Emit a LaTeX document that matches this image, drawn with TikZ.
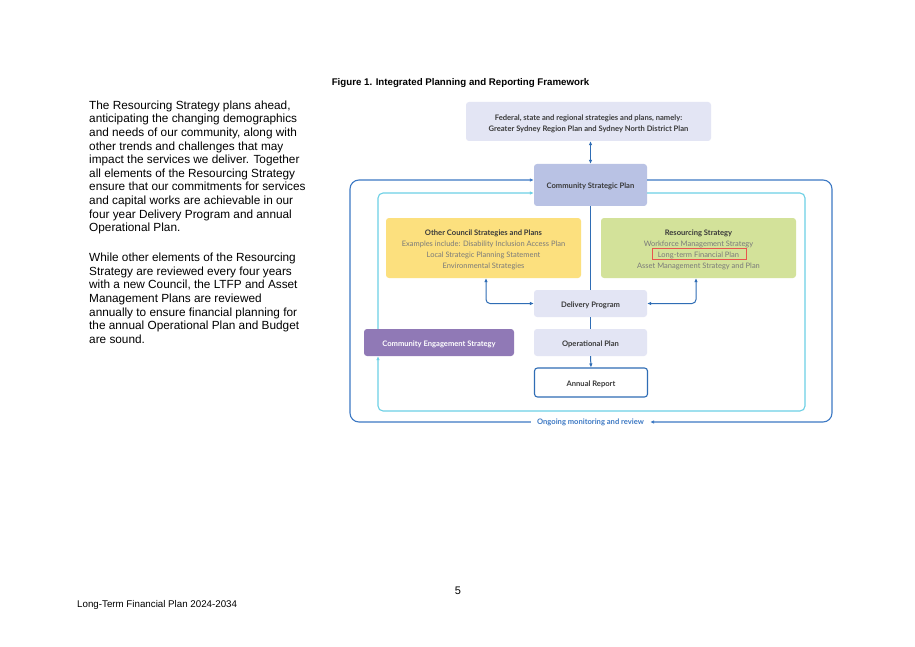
\documentclass[tikz,border=0pt]{standalone}
\usepackage{fontspec}
\setmainfont{Liberation Sans}
\newfontfamily\diag{Lato}
\usetikzlibrary{arrows.meta,calc}
\definecolor{outerblue}{HTML}{3D79C4}
\definecolor{cyanl}{HTML}{6DD0E5}
\definecolor{lav}{HTML}{E3E5F4}
\definecolor{cspc}{HTML}{B9C2E4}
\definecolor{yel}{HTML}{FCE07E}
\definecolor{grn}{HTML}{D3E29A}
\definecolor{purp}{HTML}{9079B6}
\definecolor{ttl}{HTML}{3A3A3A}
\definecolor{sub}{HTML}{7A7A7A}
\definecolor{arb}{HTML}{2F6DB5}
\definecolor{redb}{HTML}{E8554E}
\newcommand\subline[1]{{\diag\fontsize{7.5}{11}\selectfont\mdseries\color{sub}#1}}
\newcommand\topstrut{\rule{0pt}{8.6pt}}
\tikzset{
  box/.style={rounded corners=3pt, inner sep=0pt, align=center, font=\diag\fontsize{7.6}{11}\selectfont\bfseries, text=ttl,
    execute at begin node={\rule{0pt}{8.6pt}}},
  tip/.style={-{Latex[length=4pt,width=3.6pt]}},
  dtip/.style={{Latex[length=4pt,width=3.6pt]}-{Latex[length=4pt,width=3.6pt]}},
  outerline/.style={draw=outerblue, line width=1.1pt, rounded corners=9pt},
  cyanline/.style={draw=cyanl, line width=1.1pt, rounded corners=5pt},
  conn/.style={draw=arb, line width=1pt},
}
\begin{document}
\begin{tikzpicture}[x=1pt,y=-1pt]
\useasboundingbox[fill=white] (0,0) rectangle (915,647);

% left text
\node[anchor=north west, inner sep=0pt, align=left, font=\fontsize{11.8}{13.6}\selectfont] (p1) at (89,100.5)
{The Resourcing Strategy plans ahead,\\
anticipating the changing demographics\\
and needs of our community, along with\\
other trends and challenges that may\\
impact the services we deliver. Together\\
all elements of the Resourcing Strategy\\
ensure that our commitments for services\\
and capital works are achievable in our\\
four year Delivery Program and annual\\
Operational Plan.};
\node[anchor=north west, inner sep=0pt, align=left, font=\fontsize{11.8}{13.6}\selectfont] (p2) at (89,253)
{While other elements of the Resourcing\\
Strategy are reviewed every four years\\
with a new Council, the LTFP and Asset\\
Management Plans are reviewed\\
annually to ensure financial planning for\\
the annual Operational Plan and Budget\\
are sound.};

\node[font=\fontsize{9.7}{11}\selectfont\bfseries, inner sep=0pt] (title) at (460.5,83.5) {Figure 1. Integrated Planning and Reporting Framework};
\node[font=\fontsize{11}{13}\selectfont, inner sep=0pt] (pg) at (458,591) {5};
\node[anchor=west, font=\fontsize{9.75}{11}\selectfont, inner sep=0pt] (foot) at (77,605) {Long-Term Financial Plan 2024-2034};

% loop corners
\coordinate (oL) at (350,180);
\coordinate (oR) at (832,180);
\coordinate (cL) at (378,193);
\coordinate (cR) at (805,193);

% boxes
\node[box, fill=lav, minimum width=245pt, minimum height=39pt] (top) at (588.5,121.5)
{\rule{0pt}{10pt}Federal, state and regional strategies and plans, namely:\\Greater Sydney Region Plan and Sydney North District Plan};
\node[box, fill=cspc, minimum width=113pt, minimum height=42pt] (csp) at (590.5,185) {Community Strategic Plan};
\node[box, fill=yel, minimum width=195pt, minimum height=60pt] (oc) at (483.5,248)
{\topstrut Other Council Strategies and Plans\\
\subline{Examples include: Disability Inclusion Access Plan}\\
\subline{Local Strategic Planning Statement}\\
\subline{Environmental Strategies}};
\node[box, fill=grn, minimum width=195pt, minimum height=60pt] (rs) at (698.5,248)
{\topstrut Resourcing Strategy\\
\subline{Workforce Management Strategy}\\
\subline{Long-term Financial Plan}\\
\subline{Asset Management Strategy and Plan}};
\node[draw=redb, line width=0.8pt, minimum width=94pt, minimum height=11pt, inner sep=0pt] (hl) at (699,253.5) {};
\node[box, fill=lav, minimum width=113pt, minimum height=27pt] (dp) at (590.5,303.5) {Delivery Program};
\node[box, fill=lav, minimum width=113pt, minimum height=27pt] (op) at (590.5,342.5) {Operational Plan};
\node[box, fill=white, draw=arb, line width=1.1pt, minimum width=113pt, minimum height=29pt] (ar) at (591,382.5) {Annual Report};
\node[box, fill=purp, text=white, minimum width=150pt, minimum height=27pt] (ces) at (439,342.5) {Community Engagement Strategy};
\node[font=\diag\fontsize{7.6}{9}\selectfont\bfseries, text=outerblue, inner xsep=6pt, inner ysep=1pt] (ong) at (590.5,422) {Ongoing monitoring and review};

% loops
\draw[outerline, tip] (ong.west) -| (oL) -- (oL -| csp.west);
\draw[outerline, tip] (oR -| csp.east) -- (oR) |- (ong.east);
\draw[cyanline, tip] (ces.north -| cL) -- (cL) -- (cL -| csp.west);
\draw[cyanline, tip] (cR -| csp.east) -- (cR) |- (378,411) -- (ces.south -| cL);

% connectors
\draw[conn, dtip] (top.south -| csp.north) -- (csp.north);
\draw[conn] (csp.south) -- (dp.north);
\draw[conn] (dp.south) -- (op.north);
\draw[conn, tip] (op.south) -- (ar.north);
\draw[conn, dtip, rounded corners=4pt] ($(oc.south)+(2.5,0)$) |- (dp.west);
\draw[conn, dtip, rounded corners=4pt] ($(rs.south)+(-2.5,0)$) |- (dp.east);
\end{tikzpicture}
\end{document}
